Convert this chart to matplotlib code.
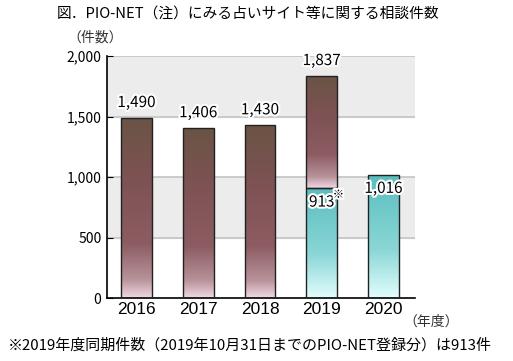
import matplotlib.pyplot as plt
import matplotlib.patheffects as pe
import numpy as np
from matplotlib.colors import LinearSegmentedColormap
from matplotlib.font_manager import FontProperties

plt.rcParams['font.family'] = ['Noto Sans CJK JP', 'DejaVu Sans']

years = ['2016', '2017', '2018', '2019', '2020']
totals = [1490, 1406, 1430, 1837, 1016]
same_period = [None, None, None, 913, None]
labels = ['1,490', '1,406', '1,430', '1,837', '1,016']

brown = LinearSegmentedColormap.from_list(
    'brown', [(0, '#efd8e4'), (0.1, '#b8939a'), (0.3, '#8c5c62'),
              (0.65, '#7e5254'), (1, '#6a5444')])
teal = LinearSegmentedColormap.from_list(
    'teal', [(0, '#e2fdfd'), (0.4, '#8ad6d6'), (1, '#5bbdbe')])

fig = plt.figure(figsize=(5.13, 3.61), dpi=100)
ax = fig.add_axes([107 / 513, 1 - 298 / 361, 308 / 513, 242 / 361])

ax.set_xlim(-0.478, 4.51)
ax.set_ylim(0, 2000)

# background bands
ax.axhspan(1500, 2000, color='#ececec', zorder=0)
ax.axhspan(500, 1000, color='#ececec', zorder=0)
for yv in [500, 1000, 1500, 2000]:
    ax.axhline(yv, color='#c4c4c4', lw=1.2, zorder=0.5)

grad = np.linspace(0, 1, 256).reshape(-1, 1)
w = 0.5


def grad_bar(x, y0, y1, cmap):
    b = ax.bar(x, y1 - y0, bottom=y0, width=w, facecolor='none',
               edgecolor='#222222', lw=1.0, zorder=3)[0]
    im = ax.imshow(grad, cmap=cmap, origin='lower', aspect='auto',
                   extent=[x - w / 2, x + w / 2, y0, y1], zorder=2)
    im.set_clip_path(b)


for i, (t, s) in enumerate(zip(totals, same_period)):
    if years[i] == '2020':
        grad_bar(i, 0, t, teal)
    elif s is not None:
        grad_bar(i, 0, s, teal)
        grad_bar(i, s, t, brown)
    else:
        grad_bar(i, 0, t, brown)

halo = [pe.withStroke(linewidth=3, foreground='white')]
for i, (t, lab) in enumerate(zip(totals, labels)):
    if years[i] == '2020':
        ax.text(i, t - 40, lab, ha='center', va='top', fontsize=11,
                path_effects=halo, zorder=5)
    else:
        ax.text(i, t + 55, lab, ha='center', va='bottom', fontsize=11,
                path_effects=halo, zorder=5)
ax.text(3, 913 - 50, '913', ha='center', va='top', fontsize=11,
        path_effects=halo, zorder=5)
ax.text(3.27, 913 - 20, '※', ha='center', va='top', fontsize=8,
        path_effects=halo, zorder=5)

yearfont = FontProperties(family='Liberation Sans', size=12.5)
ax.set_xticks(range(len(years)))
ax.set_xticklabels(years, fontproperties=yearfont)
ax.set_yticks([0, 500, 1000, 1500, 2000])
ax.set_yticklabels(['0', '500', '1,000', '1,500', '2,000'], fontsize=10)
ax.tick_params(axis='x', length=0, pad=3)
ax.tick_params(axis='y', direction='in', length=4, pad=4)
for s in ['top', 'right']:
    ax.spines[s].set_visible(False)
ax.spines['left'].set_linewidth(1.2)
ax.spines['bottom'].set_linewidth(1.2)

fig.text(248 / 513, 1 - 15 / 361, '図．PIO-NET（注）にみる占いサイト等に関する相談件数',
         ha='center', va='center', fontsize=10.6)
fig.text(67 / 513, 1 - 38 / 361, '（件数）', ha='left', va='center', fontsize=10, color='#333333')
fig.text(403 / 513, 1 - 322 / 361, '（年度）', ha='left', va='center', fontsize=10, color='#333333')
fig.text(8 / 513, 1 - 345 / 361, '※2019年度同期件数（2019年10月31日までのPIO-NET登録分）は913件',
         ha='left', va='center', fontsize=10.8)

fig.savefig('out.png', dpi=100)
